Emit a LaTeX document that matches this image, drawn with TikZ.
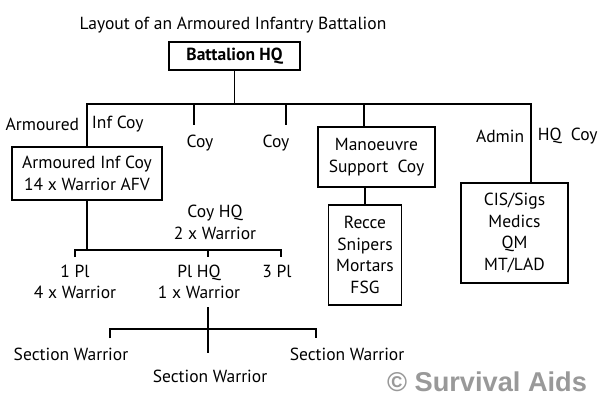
\documentclass[tikz,border=0pt]{standalone}
\usepackage{fontspec}
\setmainfont{PT Sans}
\newfontfamily\wmfont{Liberation Sans}
\begin{document}
\begin{tikzpicture}[x=1pt,y=-1pt,line width=1.7pt,
  lbl/.style={font=\fontsize{17.5}{21.5}\selectfont,inner sep=0pt,align=center},
  orgbox/.style={draw,line width=1.7pt,inner sep=0pt,outer sep=0pt,align=center,font=\fontsize{17.5}{21.5}\selectfont}]
\useasboundingbox[fill=white] (0,0) rectangle (600,400);
% title
\node[lbl] (title) at (233,25) {Layout of an Armoured Infantry Battalion};
% boxes
\node[orgbox,minimum width=131pt,minimum height=28pt,font=\fontsize{17.5}{20}\selectfont\bfseries] (bhq) at (234.5,56) {Battalion HQ};
\node[orgbox,minimum width=150pt,minimum height=53pt] (aic) at (87,173.5) {Armoured Inf Coy\\14 x Warrior AFV};
\node[orgbox,minimum width=117pt,minimum height=60pt] (msc) at (376.5,157) {Manoeuvre\\Support\ \ Coy};
\node[orgbox,minimum width=73pt,minimum height=100pt] (rec) at (365,255) {Recce\\Snipers\\Mortars\\FSG};
\node[orgbox,minimum width=107pt,minimum height=100pt] (adm) at (514.5,233) {CIS/Sigs\\Medics\\QM\\MT/LAD};
% labels
\node[lbl,anchor=east] (armd) at (80,124) {Armoured};
\node[lbl,anchor=west] (infc) at (91,124) {Inf Coy};
\node[lbl] (coy1) at (200,143) {Coy};
\node[lbl] (coy2) at (276,143) {Coy};
\node[lbl,anchor=east] (admn) at (525,136) {Admin};
\node[lbl,anchor=west] (hqc) at (537,136) {HQ\ \ Coy};
\node[lbl] (coyhq) at (215,222.5) {Coy HQ\\2 x Warrior};
\node[lbl] (pl1) at (75,282) {1 Pl\\4 x Warrior};
\node[lbl] (plhq) at (199,282) {Pl HQ\\1 x Warrior};
\node[lbl] (pl3) at (277,271) {3 Pl};
\node[lbl] (sec1) at (71,354) {Section Warrior};
\node[lbl] (sec2) at (210,376) {Section Warrior};
\node[lbl] (sec3) at (347,354) {Section Warrior};
\node[font=\wmfont\fontsize{27.2}{30}\selectfont\bfseries,text=black!40,inner sep=0pt] (wm) at (487,382) {© Survival Aids};
% coordinates
\coordinate (bus) at (0,104);
\coordinate (c1) at (194,125);
\coordinate (c2) at (286,125);
\coordinate (cbus) at (0,250);
\coordinate (t1) at (75,257);
\coordinate (t2) at (208,257);
\coordinate (t3) at (281,257);
\coordinate (ptop) at (208,307);
\coordinate (pbot) at (208,353);
\coordinate (pbus) at (0,329);
\coordinate (s1) at (110,338);
\coordinate (s3) at (316,338);
% connectors
\draw (bhq.south) -- (bhq.south |- bus);
\draw (aic.north) -- (aic.north |- bus) -- ([xshift=16.5pt]adm.north |- bus) -- ([xshift=16.5pt]adm.north);
\draw (c1 |- bus) -- (c1);
\draw (c2 |- bus) -- (c2);
\draw ([xshift=-12.5pt]msc.north |- bus) -- ([xshift=-12.5pt]msc.north);
\draw (msc.south -| rec.north) -- (rec.north);
\draw (aic.south) -- (aic.south |- cbus);
\draw (t1) -- (t1 |- cbus) -- (t3 |- cbus) -- (t3);
\draw (t2 |- cbus) -- (t2);
\draw (ptop) -- (pbot);
\draw (s1) -- (s1 |- pbus) -- (s3 |- pbus) -- (s3);
\end{tikzpicture}
\end{document}
